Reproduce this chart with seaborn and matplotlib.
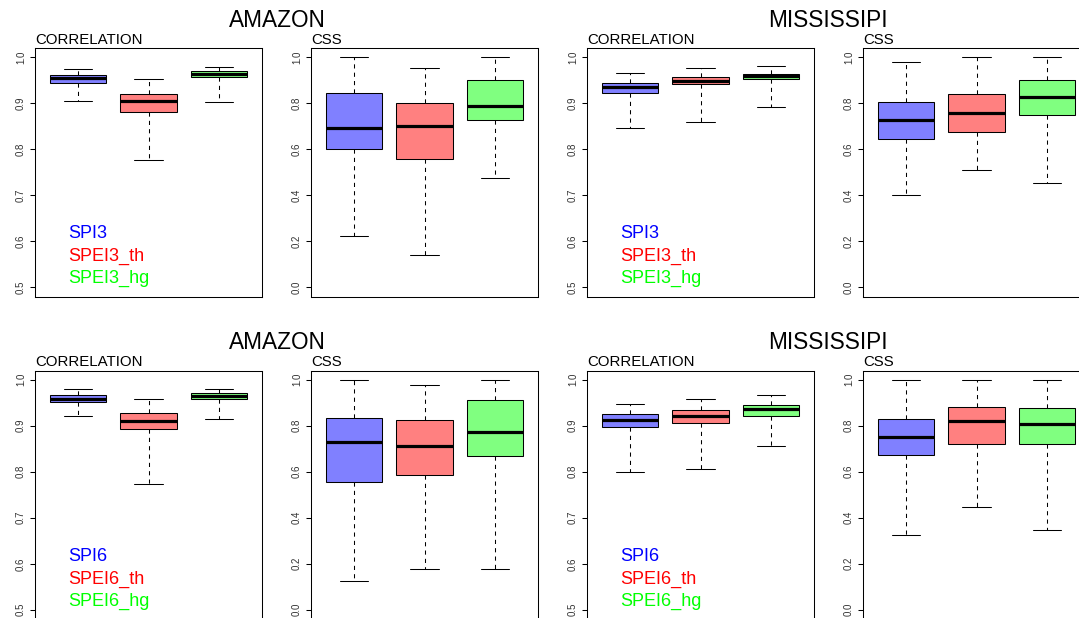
import numpy as np
import pandas as pd
import matplotlib
matplotlib.use("Agg")
import matplotlib.pyplot as plt
import seaborn as sns

# Drought indices compared in each panel
IDX3 = ["SPI3", "SPEI3_th", "SPEI3_hg"]
IDX6 = ["SPI6", "SPEI6_th", "SPEI6_hg"]
BOX_COLORS = ["#8080FF", "#FF8080", "#80FF80"]
TEXT_COLORS = ["#0000FF", "#FF0000", "#00FF00"]

# Five-number summaries per index: min, lower quartile, median, upper quartile, max
amazon_corr_3 = [[0.905, 0.943, 0.954, 0.962, 0.975],
                 [0.776, 0.882, 0.904, 0.921, 0.953],
                 [0.903, 0.957, 0.964, 0.970, 0.979]]
amazon_css_3 = [[0.225, 0.600, 0.693, 0.846, 1.000],
                [0.142, 0.558, 0.699, 0.799, 0.955],
                [0.477, 0.726, 0.787, 0.899, 1.000]]
miss_corr_3 = [[0.847, 0.922, 0.935, 0.943, 0.966],
               [0.860, 0.941, 0.949, 0.958, 0.976],
               [0.892, 0.953, 0.959, 0.964, 0.981]]
miss_css_3 = [[0.401, 0.643, 0.726, 0.804, 0.977],
              [0.509, 0.674, 0.757, 0.838, 1.000],
              [0.454, 0.749, 0.828, 0.899, 1.000]]
amazon_corr_6 = [[0.922, 0.951, 0.958, 0.966, 0.979],
                 [0.774, 0.893, 0.911, 0.928, 0.957],
                 [0.915, 0.957, 0.965, 0.972, 0.979]]
amazon_css_6 = [[0.123, 0.555, 0.728, 0.832, 1.000],
                [0.177, 0.587, 0.713, 0.825, 0.977],
                [0.177, 0.667, 0.771, 0.910, 1.000]]
miss_corr_6 = [[0.799, 0.897, 0.913, 0.925, 0.948],
               [0.807, 0.907, 0.922, 0.934, 0.957],
               [0.857, 0.922, 0.936, 0.945, 0.967]]
miss_css_6 = [[0.325, 0.674, 0.751, 0.828, 1.000],
              [0.448, 0.722, 0.819, 0.883, 1.000],
              [0.346, 0.719, 0.806, 0.875, 1.000]]

BASINS = ["AMAZON", "MISSISSIPI"]

sns.set_theme(style="ticks")
plt.rcParams["font.family"] = ["Liberation Sans", "DejaVu Sans"]

W, H = 1079, 618
fig = plt.figure(figsize=(W / 100, H / 100), dpi=100)

COL_LEFT = [35, 311, 587, 863]
ROW_TOP = [48, 370.5]
AX_W, AX_H = 227, 248.5


def px_axes(left, top):
    return fig.add_axes([left / W, 1 - (top + AX_H) / H, AX_W / W, AX_H / H])


def draw_panel(ax, summaries, names, metric):
    df = pd.DataFrame({"index": np.repeat(names, 5),
                       "value": np.concatenate(summaries)})
    sns.boxplot(data=df, x="index", y="value", hue="index",
                order=names, hue_order=names, palette=BOX_COLORS,
                saturation=1, width=0.8, whis=(0, 100),
                linecolor="black", linewidth=0.75, legend=False, ax=ax,
                medianprops=dict(linewidth=2.3, color="black"),
                whiskerprops=dict(linestyle=(0, (4, 4))),
                capprops=dict(linestyle="-"))
    ax.set_xlim(-0.62, 2.62)
    if metric == "CORRELATION":
        ax.set_ylim(0.48, 1.02)
        ticks = np.round(np.arange(0.5, 1.01, 0.1), 1)
    else:
        ax.set_ylim(-0.04, 1.04)
        ticks = np.round(np.arange(0.0, 1.01, 0.2), 1)
    ax.set_yticks(ticks, [f"{t:.1f}" for t in ticks], rotation=90, va="center")
    ax.set_xticks([])
    ax.set_xlabel("")
    ax.set_ylabel("")
    for sp in ax.spines.values():
        sp.set_visible(True)
        sp.set_color("black")
        sp.set_linewidth(0.75)
    ax.tick_params(axis="y", left=True, direction="out", length=3.6,
                   width=0.75, labelsize=7, pad=3, colors="black",
                   labelcolor="#333333")
    ax.set_title(metric, loc="left", fontsize=10.8, pad=2.9, color="black")
    if metric == "CORRELATION":
        for name, col, yf in zip(names, TEXT_COLORS, [0.235, 0.143, 0.054]):
            ax.text(0.145, yf, name, color=col, fontsize=13,
                    transform=ax.transAxes, ha="left", va="baseline")


rows = [
    (IDX3, [amazon_corr_3, amazon_css_3, miss_corr_3, miss_css_3]),
    (IDX6, [amazon_corr_6, amazon_css_6, miss_corr_6, miss_css_6]),
]
metrics = ["CORRELATION", "CSS", "CORRELATION", "CSS"]

for r, (names, panels) in enumerate(rows):
    for c, (summ, metric) in enumerate(zip(panels, metrics)):
        ax = px_axes(COL_LEFT[c], ROW_TOP[r])
        draw_panel(ax, summ, names, metric)

# Basin headings over each pair of panels
for base_y in [27, 349]:
    fig.text(277 / W, 1 - base_y / H, BASINS[0], ha="center", va="baseline",
             fontsize=16.3, color="black")
    fig.text(827.5 / W, 1 - base_y / H, BASINS[1], ha="center", va="baseline",
             fontsize=16.3, color="black")

fig.savefig("out.png", dpi=100, facecolor="white")
